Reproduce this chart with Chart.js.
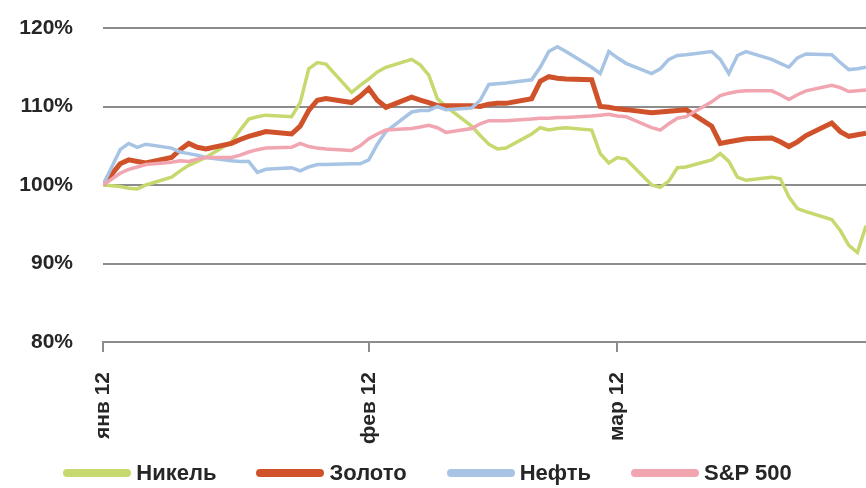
<!DOCTYPE html>
<html>
<head>
<meta charset="utf-8">
<script src="https://cdn.jsdelivr.net/npm/chart.js@4.4.1/dist/chart.umd.min.js"></script>
<style>
  html, body { margin: 0; padding: 0; background: #ffffff; }
  #wrap { width: 866px; height: 488px; position: relative; overflow: hidden; }
  #legend {
    position: absolute; left: 0; top: 459px; width: 855px; height: 28px;
    display: flex; justify-content: center; align-items: center;
    font-family: "Liberation Sans", Arial, sans-serif; font-weight: bold;
    font-size: 22px; color: #262626; line-height: 28px;
  }
  .item { display: flex; align-items: center; margin: 0 20px; white-space: nowrap; }
  .sw { width: 68px; height: 8px; border-radius: 4px; margin-right: 5px; }
</style>
</head>
<body>
<div id="wrap">
  <canvas id="c" width="866" height="488"></canvas>
  <div id="legend"></div>
</div>
<script>
// Day offsets from 1 Jan 2012 (trading days)
const days = [0, 2, 3, 4, 5, 8, 9, 10, 11, 12, 15, 16, 17, 18, 19, 22, 23, 24, 25, 26,
  29, 30, 31, 32, 33, 36, 37, 38, 39, 40, 43, 44, 45, 46, 47, 50, 51, 52, 53, 54,
  57, 58, 59, 60, 61, 64, 65, 66, 67, 68, 71, 72, 73, 74, 75, 78, 79, 80, 81, 82,
  85, 86, 87, 88, 89];

// Month tick positions (day offsets) and their labels
const monthTicks = [0, 31, 60];
const monthLabels = ['янв 12', 'фев 12', 'мар 12'];

const seriesNames = ['Никель', 'Золото', 'Нефть', 'S&P 500'];

const nickel = [100, 99.8, 99.6, 99.5, 100.0, 101.0, 101.8, 102.5, 103.0, 103.5,
  105.5, 107.0, 108.4, 108.7, 108.9, 108.7, 110.5, 114.8, 115.6, 115.4,
  111.8, 112.7, 113.5, 114.4, 115.0, 116.0, 115.3, 114.0, 111.0, 110.0,
  107.5, 106.3, 105.2, 104.6, 104.7, 106.5, 107.3, 107.0, 107.2, 107.3,
  107.0, 104.0, 102.8, 103.5, 103.3, 100.0, 99.7, 100.5, 102.2, 102.3,
  103.2, 104.0, 103.0, 101.0, 100.6, 101.0, 100.8, 98.5, 97.0, 96.6,
  95.6, 94.2, 92.3, 91.4, 94.8];

const gold = [100, 102.7, 103.2, 103.0, 102.8, 103.5, 104.5, 105.3, 104.8, 104.6,
  105.3, 105.8, 106.2, 106.5, 106.8, 106.5, 107.5, 109.5, 110.8, 111.0,
  110.5, 111.3, 112.3, 110.8, 109.9, 111.2, 110.8, 110.5, 110.1, 110.1,
  110.1, 110.0, 110.3, 110.4, 110.4, 111.0, 113.2, 113.8, 113.6, 113.5,
  113.4, 110.0, 109.9, 109.7, 109.6, 109.2, 109.3, 109.4, 109.5, 109.6,
  107.5, 105.3, 105.5, 105.7, 105.9, 106.0, 105.5, 104.9, 105.5, 106.3,
  107.9, 106.8, 106.2, 106.4, 106.6];

const oil = [100, 104.5, 105.3, 104.8, 105.2, 104.7, 104.2, 104.0, 103.8, 103.5,
  103.1, 103.0, 103.0, 101.6, 102.0, 102.2, 101.8, 102.3, 102.6, 102.6,
  102.7, 102.7, 103.2, 105.2, 106.8, 109.3, 109.5, 109.5, 110.0, 109.6,
  109.8, 110.8, 112.8, 112.9, 113.0, 113.4, 115.0, 117.0, 117.6, 117.0,
  115.0, 114.2, 117.0, 116.2, 115.5, 114.2, 114.8, 116.0, 116.5, 116.6,
  117.0, 116.0, 114.2, 116.5, 117.0, 116.0, 115.5, 115.0, 116.2, 116.7,
  116.6, 115.6, 114.7, 114.8, 115.0];

const sp500 = [100, 101.5, 102.0, 102.3, 102.6, 102.9, 103.1, 103.0, 103.3, 103.5,
  103.5, 103.8, 104.2, 104.5, 104.7, 104.8, 105.3, 104.9, 104.7, 104.6,
  104.4, 105.0, 105.9, 106.5, 107.0, 107.2, 107.4, 107.6, 107.3, 106.7,
  107.2, 107.8, 108.2, 108.2, 108.2, 108.4, 108.5, 108.5, 108.6, 108.6,
  108.8, 108.9, 109.0, 108.8, 108.7, 107.3, 107.0, 107.8, 108.5, 108.7,
  110.6, 111.4, 111.7, 111.9, 112.0, 112.0, 111.5, 110.9, 111.5, 112.0,
  112.7, 112.4, 111.9, 112.0, 112.1];

const yTicks = [80, 90, 100, 110, 120];

const colors = ['#c6d96e', '#d0522a', '#a8c4e4', '#f1a5b0'];
const widths = [3.5, 5, 3.5, 3.5];
const drawOrder = [4, 3, 2, 1];
const values = [nickel, gold, oil, sp500];

const FONT = '"Liberation Sans", Arial, sans-serif';
Chart.defaults.font.family = FONT;
Chart.defaults.color = '#262626';

const datasets = seriesNames.map((name, i) => ({
  label: name,
  data: days.map((d, k) => ({ x: d, y: values[i][k] })),
  borderColor: colors[i],
  backgroundColor: colors[i],
  borderWidth: widths[i],
  pointRadius: 0,
  tension: 0,
  order: drawOrder[i]
}));

const chart = new Chart(document.getElementById('c'), {
  type: 'line',
  data: { datasets },
  options: {
    responsive: false,
    animation: false,
    layout: { padding: { top: 28, left: 0, right: 0, bottom: 34 } },
    plugins: {
      tooltip: { enabled: false },
      legend: { display: false }
    },
    scales: {
      x: {
        type: 'linear',
        min: monthTicks[0],
        max: days[days.length - 1],
        afterFit: (s) => { s.height = 112; },
        afterBuildTicks: (s) => { s.ticks = monthTicks.map(v => ({ value: v })); },
        ticks: {
          autoSkip: false,
          minRotation: 90,
          maxRotation: 90,
          padding: 20,
          font: { size: 21, weight: 'bold' },
          color: '#262626',
          callback: (v) => {
            const idx = monthTicks.indexOf(v);
            return idx >= 0 ? monthLabels[idx] : '';
          }
        },
        grid: {
          drawOnChartArea: false,
          drawTicks: true,
          tickLength: 10,
          color: '#8c8c8c',
          lineWidth: 2
        },
        border: { display: true, color: '#8c8c8c', width: 2 }
      },
      y: {
        min: yTicks[0],
        max: yTicks[yTicks.length - 1],
        afterFit: (s) => { s.width = 103; },
        afterBuildTicks: (s) => { s.ticks = yTicks.map(v => ({ value: v })); },
        ticks: {
          padding: 3,
          font: { size: 21, weight: 'bold' },
          color: '#262626',
          callback: (v) => v + '%'
        },
        grid: {
          drawTicks: true,
          tickLength: 27,
          tickColor: 'rgba(0,0,0,0)',
          color: '#8c8c8c',
          lineWidth: 2
        },
        border: { display: false }
      }
    }
  }
});

// HTML legend built from the chart's datasets
const legendEl = document.getElementById('legend');
chart.data.datasets.forEach((ds) => {
  const item = document.createElement('div');
  item.className = 'item';
  const sw = document.createElement('span');
  sw.className = 'sw';
  sw.style.background = ds.borderColor;
  const txt = document.createElement('span');
  txt.textContent = ds.label;
  item.appendChild(sw);
  item.appendChild(txt);
  legendEl.appendChild(item);
});
</script>
</body>
</html>
